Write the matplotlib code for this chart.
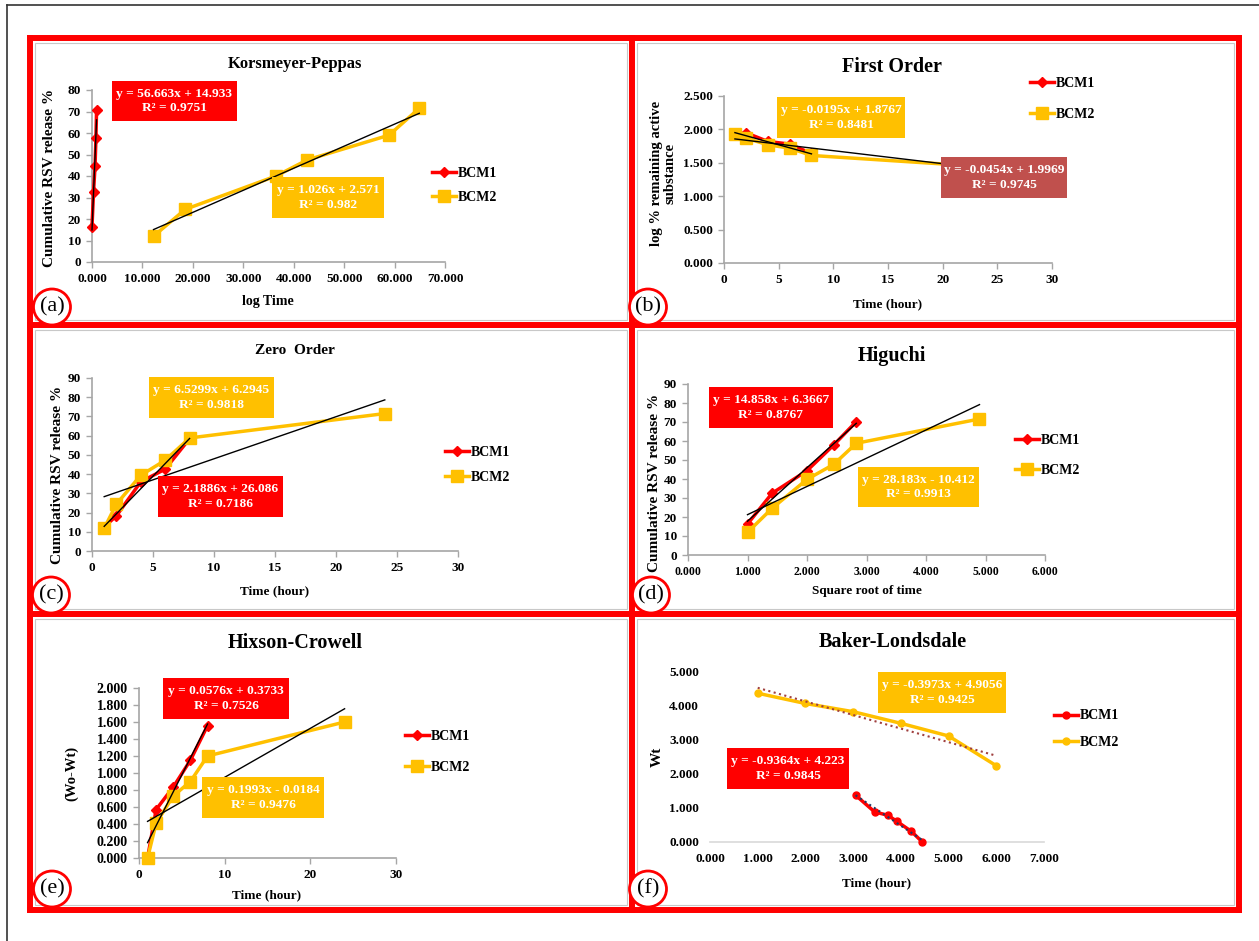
import numpy as np
import matplotlib
matplotlib.use('Agg')
import matplotlib.pyplot as plt
from matplotlib.patches import Rectangle, Ellipse
from matplotlib.lines import Line2D
from matplotlib.ticker import MultipleLocator, FormatStrFormatter

plt.rcParams['font.family'] = ['Liberation Serif', 'DejaVu Serif']
plt.rcParams['font.weight'] = 'bold'

W, H = 1259, 941
RED = '#FF0000'
YEL = '#FFC000'
DRED = '#C0504D'
AXG = '#A6A6A6'

# ---- data ----
t1 = [1, 2, 4, 6, 8]
t2 = [1, 2, 4, 6, 8, 24]

# (a) Korsmeyer-Peppas
kp_x1 = [0.0, 0.301, 0.602, 0.778, 0.903]
kp_y1 = [16.5, 32.5, 44.5, 57.5, 70.5]
kp_x2 = [12.2, 18.5, 36.5, 42.7, 58.9, 64.9]
kp_y2 = [12.0, 24.5, 40.0, 47.5, 59.0, 71.5]

# (b) First order
fo_y1 = [1.92, 1.95, 1.82, 1.78, 1.64]
fo_y2 = [1.93, 1.87, 1.77, 1.72, 1.61, 1.44]

# (c) Zero order
zo_y1 = [12.5, 18.3, 36.0, 42.6, 58.5]
zo_y2 = [11.8, 24.4, 39.4, 47.2, 58.8, 71.5]

# (d) Higuchi
hi_x1 = [1.0, 1.414, 2.0, 2.449, 2.828]
hi_y1 = [16.3, 32.5, 44.4, 57.9, 70.2]
hi_x2 = [1.0, 1.414, 2.0, 2.449, 2.828, 4.899]
hi_y2 = [11.9, 24.6, 39.8, 47.7, 58.8, 71.6]

# (e) Hixson-Crowell
hc_y1 = [0.0, 0.57, 0.835, 1.15, 1.557]
hc_y2 = [0.0, 0.41, 0.73, 0.90, 1.20, 1.60]

# (f) Baker-Londsdale
bl_x1 = [3.05, 3.45, 3.73, 3.91, 4.22, 4.45]
bl_y1 = [1.37, 0.88, 0.78, 0.61, 0.31, 0.0]
bl_x2 = [1, 2, 3, 4, 5, 6]
bl_y2 = [4.35, 4.05, 3.81, 3.47, 3.10, 2.23]

# trendline coefficients (slope, intercept) as printed
kp_fit = [(56.663, 14.933), (1.026, 2.571)]
fo_fit = [(-0.0454, 1.9969), (-0.0195, 1.8767)]
zo_fit = [(6.5299, 6.2945), (2.1886, 26.086)]
hi_fit = [(28.183, -10.412), (14.858, 6.3667)]
hc_fit = [(0.1993, -0.0184), (0.0576, 0.3733)]
bl_fit = [(-0.9364, 4.223), (-0.3973, 4.9056)]

fig = plt.figure(figsize=(W / 100, H / 100), dpi=100)


def fx(x):
    return x / W


def fy(y):
    return 1 - y / H


def add_ax(x0, x1, yt, yb):
    ax = fig.add_axes([fx(x0), fy(yb), (x1 - x0) / W, (yb - yt) / H])
    ax.patch.set_alpha(0)
    return ax


def style(ax, xlim, ylim, xstep, ystep, xfmt, yfmt, xs=9.5, ys=9.5, noleft=False):
    ax.set_xlim(xlim)
    ax.set_ylim(ylim)
    ax.xaxis.set_major_locator(MultipleLocator(xstep))
    ax.yaxis.set_major_locator(MultipleLocator(ystep))
    ax.xaxis.set_major_formatter(FormatStrFormatter(xfmt))
    ax.yaxis.set_major_formatter(FormatStrFormatter(yfmt))
    for s in ['top', 'right']:
        ax.spines[s].set_visible(False)
    for s in ['left', 'bottom']:
        ax.spines[s].set_color(AXG)
        ax.spines[s].set_linewidth(1.2)
    ax.tick_params(direction='out', length=4, width=1, color=AXG, pad=4)
    ax.tick_params(axis='x', labelsize=xs)
    ax.tick_params(axis='y', labelsize=ys)
    if noleft:
        ax.spines['left'].set_visible(False)
        ax.spines['bottom'].set_color('#D9D9D9')
        ax.tick_params(length=0, pad=8)


def series(ax, x, y, c, m, ms):
    ax.plot(x, y, color=c, lw=2.5, marker=m, ms=ms, mfc=c, mec=c, clip_on=False, zorder=3)


def trend(ax, fit, x, c='black', ls='-', lw=1.0):
    xx = np.array([min(x), max(x)])
    ax.plot(xx, fit[0] * xx + fit[1], color=c, ls=ls, lw=lw, clip_on=False, zorder=4)


def legend(ax, m1, m2, s1, s2, xpx, ypx, sp):
    h = [Line2D([], [], color=RED, lw=2.5, marker=m1, ms=s1),
         Line2D([], [], color=YEL, lw=2.5, marker=m2, ms=s2)]
    ax.legend(h, ['BCM1', 'BCM2'], loc='center left', bbox_to_anchor=(fx(xpx), fy(ypx)),
              bbox_transform=fig.transFigure, frameon=False, fontsize=10,
              handlelength=1.7, handletextpad=0.15, borderpad=0, borderaxespad=0,
              labelspacing=sp, numpoints=1)


def eqbox(x0, x1, y0, y1, c, txt):
    fig.add_artist(Rectangle((fx(x0), fy(y1)), (x1 - x0) / W, (y1 - y0) / H,
                             transform=fig.transFigure, fc=c, ec='none', zorder=5))
    fig.text(fx((x0 + x1) / 2), fy((y0 + y1) / 2), txt, ha='center', va='center',
             color='white', fontsize=9.6, linespacing=1.3, zorder=6)


def label(x, y, s, size, rot=0, ls=1.2):
    fig.text(fx(x), fy(y), s, ha='center', va='center', fontsize=size, rotation=rot,
             linespacing=ls)


# (a) Korsmeyer-Peppas
ax = add_ax(92, 445, 90, 262)
style(ax, (0, 70), (0, 80), 10, 10, '%.3f', '%d')
series(ax, kp_x1, kp_y1, RED, 'D', 5)
series(ax, kp_x2, kp_y2, YEL, 's', 8)
trend(ax, kp_fit[0], kp_x1)
trend(ax, kp_fit[1], kp_x2)
legend(ax, 'D', 's', 5, 8, 432, 185.5, 0.75)
label(295, 64, 'Korsmeyer-Peppas', 12)
label(50, 178, 'Cumulative RSV release %', 11, 90)
label(268, 302, 'log Time', 10)
eqbox(112, 237, 81, 121, RED, 'y = 56.663x + 14.933\nR² = 0.9751')
eqbox(272, 384, 177, 218, YEL, 'y = 1.026x + 2.571\nR² = 0.982')

# (b) First order
ax = add_ax(724, 1052, 96, 263)
style(ax, (0, 30), (0, 2.5), 5, 0.5, '%d', '%.3f')
series(ax, t1, fo_y1, RED, 'D', 5)
series(ax, t2, fo_y2, YEL, 's', 8)
trend(ax, fo_fit[0], t1)
trend(ax, fo_fit[1], t2)
legend(ax, 'D', 's', 5, 8, 1030, 99.3, 1.3)
label(892, 67, 'First Order', 14.5)
label(663, 173, 'log % remaining active\nsubstance', 10.5, 90, 1.0)
label(888, 304, 'Time (hour)', 9.5)
eqbox(777, 905, 97, 138, YEL, 'y = -0.0195x + 1.8767\nR² = 0.8481')
eqbox(941, 1067, 157, 198, DRED, 'y = -0.0454x + 1.9969\nR² = 0.9745')

# (c) Zero order
ax = add_ax(92, 458, 378, 551)
style(ax, (0, 30), (0, 90), 5, 10, '%d', '%d')
series(ax, t1, zo_y1, RED, 'D', 5)
series(ax, t2, zo_y2, YEL, 's', 8)
trend(ax, zo_fit[0], t1)
trend(ax, zo_fit[1], t2)
legend(ax, 'D', 's', 5, 8, 445, 465, 0.85)
label(295, 351, 'Zero  Order', 11)
label(58, 475, 'Cumulative RSV release %', 11, 90)
label(275, 591, 'Time (hour)', 9.5)
eqbox(149, 274, 377, 418, YEL, 'y = 6.5299x + 6.2945\nR² = 0.9818')
eqbox(158, 283, 476, 517, RED, 'y = 2.1886x + 26.086\nR² = 0.7186')

# (d) Higuchi
ax = add_ax(688, 1045, 384, 555)
style(ax, (0, 6), (0, 90), 1, 10, '%.3f', '%d', xs=8.5)
series(ax, hi_x1, hi_y1, RED, 'D', 5)
series(ax, hi_x2, hi_y2, YEL, 's', 8)
trend(ax, hi_fit[0], hi_x1)
trend(ax, hi_fit[1], hi_x2)
legend(ax, 'D', 's', 5, 8, 1015, 455.5, 1.2)
label(892, 356, 'Higuchi', 14.5)
label(655, 483, 'Cumulative RSV release %', 11, 90)
label(867, 591, 'Square root of time', 9.5)
eqbox(709, 833, 387, 428, RED, 'y = 14.858x + 6.3667\nR² = 0.8767')
eqbox(858, 979, 467, 507, YEL, 'y = 28.183x - 10.412\nR² = 0.9913')

# (e) Hixson-Crowell
ax = add_ax(139, 396, 688, 858)
style(ax, (0, 30), (0, 2.0), 10, 0.2, '%d', '%.3f', ys=10)
series(ax, t1, hc_y1, RED, 'D', 5)
series(ax, t2, hc_y2, YEL, 's', 8)
trend(ax, hc_fit[0], t1)
trend(ax, hc_fit[1], t2)
legend(ax, 'D', 's', 5, 8, 405, 751.7, 1.3)
label(295, 643, 'Hixson-Crowell', 14.5)
label(72, 773, '(Wo-Wt)', 10.5, 90)
label(267, 895, 'Time (hour)', 9.5)
eqbox(163, 289, 678, 719, RED, 'y = 0.0576x + 0.3733\nR² = 0.7526')
eqbox(202, 324, 777, 818, YEL, 'y = 0.1993x - 0.0184\nR² = 0.9476')

# (f) Baker-Londsdale
ax = add_ax(710, 1044, 671, 842)
style(ax, (0, 7), (0, 5), 1, 1, '%.3f', '%.3f', noleft=True)
trend(ax, bl_fit[0], bl_x1, c='#1F3864', ls=':', lw=1.5)
series(ax, bl_x1, bl_y1, RED, 'o', 5)
series(ax, bl_x2, bl_y2, YEL, 'o', 5)
trend(ax, bl_fit[1], bl_x2, c='#A0403F', ls=':', lw=1.5)
legend(ax, 'o', 'o', 5, 5, 1054, 729, 0.95)
label(893, 642, 'Baker-Londsdale', 14.5)
label(657, 757, 'Wt', 11, 90)
label(877, 883, 'Time (hour)', 9.5)
eqbox(878, 1006, 672, 713, YEL, 'y = -0.3973x + 4.9056\nR² = 0.9425')
eqbox(727, 849, 748, 789, RED, 'y = -0.9364x + 4.223\nR² = 0.9845')

# ---- frames ----
def fline(xs, ys, c, lw, z=7):
    fig.add_artist(Line2D([fx(v) for v in xs], [fy(v) for v in ys],
                          transform=fig.transFigure, color=c, lw=lw, zorder=z,
                          solid_capstyle='projecting'))


# thin outer black frame (top and left only visible)
fline([7, W], [5, 5], '#333333', 1.2)
fline([7, 7], [5, H], '#333333', 1.2)

# light gray chart borders
for (x0, x1, y0, y1) in [(30, 632, 38, 325), (632, 1239, 38, 325),
                         (30, 632, 325, 614), (632, 1239, 325, 614),
                         (30, 632, 614, 910), (632, 1239, 614, 910)]:
    fig.add_artist(Rectangle((fx(x0 + 5), fy(y1 - 5)), (x1 - x0 - 10) / W, (y1 - y0 - 10) / H,
                             transform=fig.transFigure, fc='none', ec='#C8C8C8', lw=0.8, zorder=6))

# red panel frames
fline([30, 1239], [38, 38], RED, 4.3)
fline([30, 1239], [910, 910], RED, 4.3)
fline([30, 1239], [325, 325], RED, 4.3)
fline([30, 1239], [614, 614], RED, 4.3)
fline([30, 30], [38, 910], RED, 4.3)
fline([632, 632], [38, 910], RED, 4.3)
fline([1239, 1239], [38, 910], RED, 4.3)

# panel letters
for (cx, cy, s) in [(52, 307, '(a)'), (648, 307, '(b)'), (51, 595, '(c)'),
                    (651, 595, '(d)'), (52, 889, '(e)'), (648, 889, '(f)')]:
    fig.add_artist(Ellipse((fx(cx), fy(cy)), 37 / W, 36 / H, transform=fig.transFigure,
                           fc='white', ec=RED, lw=2, zorder=8))
    fig.text(fx(cx), fy(cy), s, ha='center', va='center', fontsize=16,
             fontweight='normal', zorder=9)

fig.savefig('out.png', dpi=100)
